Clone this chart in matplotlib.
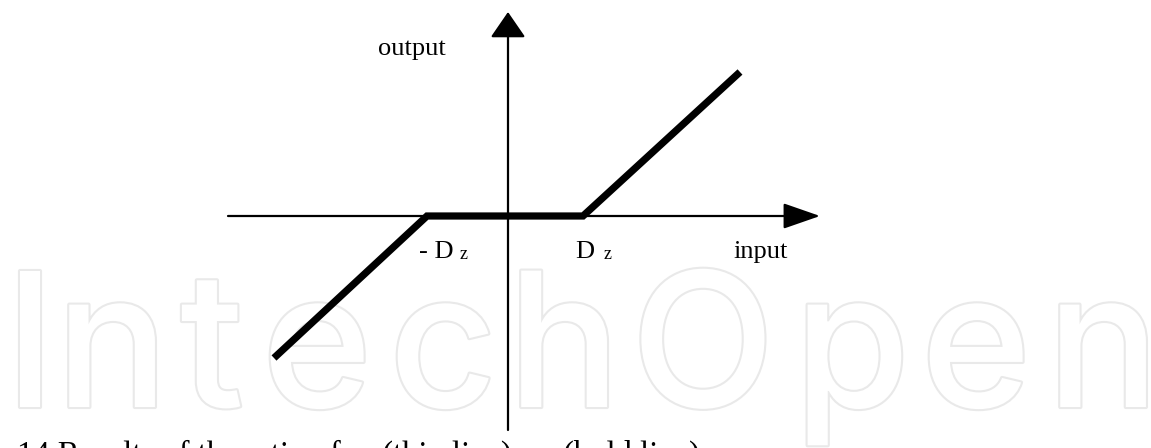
import matplotlib.pyplot as plt
import matplotlib.patheffects as pe

# dead zone characteristic (units: pixels from the origin of the diagram)
input_pts = [-234, -81, 75, 232]
output_pts = [-142, 0, 0, 144]

# axis extents
x_axis = [-280, 312]
y_axis = [-214, 204]

labels = ["output", "- D", "z", "D", "z", "input"]
caption = "14 Results of the ratio of re (thin line), rp (bold line)"
watermark = "IntechOpen"
# centre of each watermark letter
watermark_x = [-478, -396, -296, -191, -65, 56, 195, 344, 468, 595]

fig = plt.figure(figsize=(11.51, 4.48), dpi=100)
ax = fig.add_axes([0, 0, 1, 1])
ax.set_xlim(-508, 643)
ax.set_ylim(-232, 216)
ax.axis("off")

serif = "Liberation Serif"

# watermark, one letter at a time to follow the spacing of the logo
for letter, lx in zip(watermark, watermark_x):
    ax.text(lx, -191, letter, fontsize=135, family="Inter", fontweight=500,
            color="white", ha="center", va="baseline", zorder=0,
            path_effects=[pe.withStroke(linewidth=3, foreground="#e9e9e9")])

# axes with arrow heads
ax.annotate("", xy=(x_axis[1], 0), xytext=(x_axis[0], 0),
            arrowprops=dict(arrowstyle="-|>,head_length=23,head_width=8",
                            mutation_scale=1, lw=1.6, color="black",
                            shrinkA=0, shrinkB=0), zorder=2)
ax.annotate("", xy=(0, y_axis[1]), xytext=(0, y_axis[0]),
            arrowprops=dict(arrowstyle="-|>,head_length=16,head_width=11",
                            mutation_scale=1, lw=1.6, color="black",
                            shrinkA=0, shrinkB=0), zorder=2)

ax.plot(input_pts, output_pts, color="black", lw=5.2,
        solid_capstyle="butt", solid_joinstyle="miter", zorder=3)

ax.text(-130, 161, labels[0], fontsize=19, family=serif, va="baseline")
ax.text(-89, -42, labels[1], fontsize=19, family=serif, va="baseline")
ax.text(-48, -43, labels[2], fontsize=13, family=serif, va="baseline")
ax.text(67, -42, labels[3], fontsize=19, family=serif, va="baseline")
ax.text(96, -43, labels[4], fontsize=13, family=serif, va="baseline")
ax.text(225, -42, labels[5], fontsize=19, family=serif, va="baseline")

ax.text(-491, -248, caption, fontsize=23.5, family=serif, va="baseline")

fig.savefig("out.png", dpi=100)
